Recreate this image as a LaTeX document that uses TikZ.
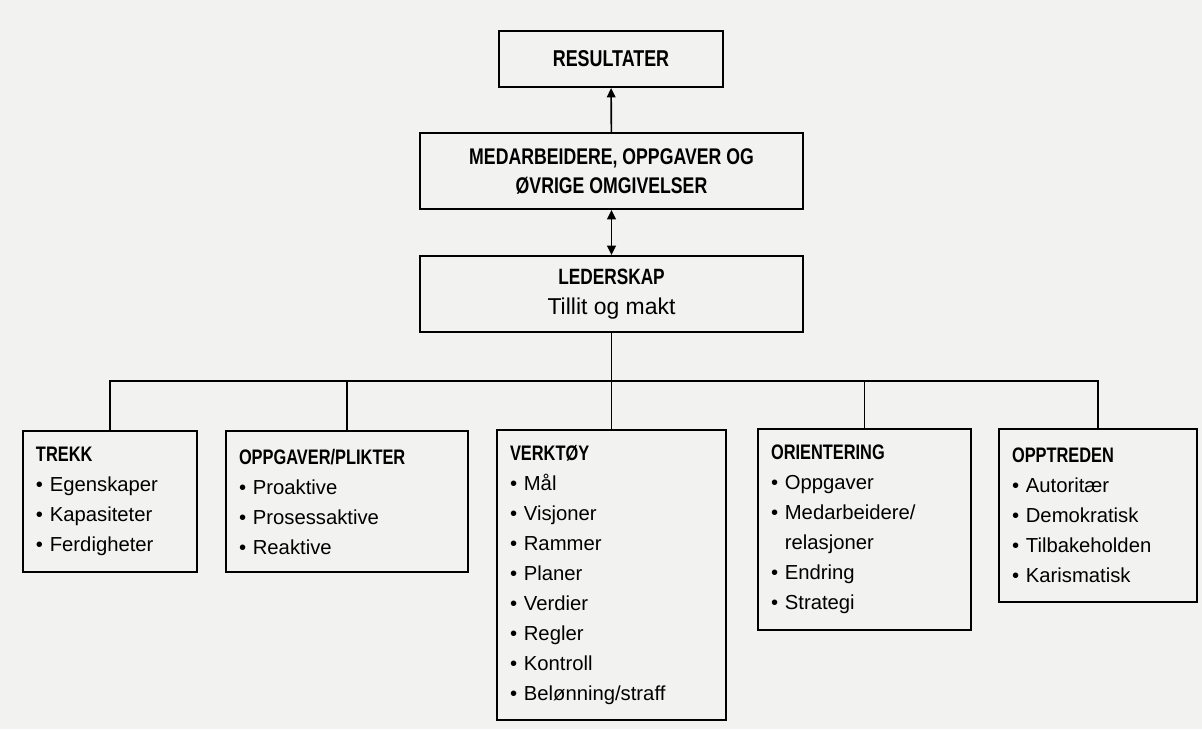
\documentclass[tikz,border=0pt]{standalone}
\usepackage{fontspec}
\setmainfont{Liberation Sans}
\newfontfamily\headfont{Liberation Sans}[FakeStretch=0.78]
\usetikzlibrary{arrows.meta}

\definecolor{papergray}{RGB}{242,242,241}
\newcommand{\hd}[2]{{\headfont\bfseries\fontsize{#1}{22.5}\selectfont #2}}
\newcommand{\itm}[1]{\textbullet\ #1}

\tikzset{every picture/.style={line width=0.75pt}}
\tikzset{
  topbox/.style 2 args={draw, line width=1.5pt, align=center, inner sep=0pt,
    minimum width=#1*0.75pt, minimum height=#2*0.75pt},
  leafbox/.style 2 args={draw, line width=1.5pt, align=left, inner xsep=9.75pt, inner ysep=0pt,
    minimum width=#1*0.75pt, minimum height=#2*0.75pt, text width=(#1-26)*0.75pt,
    font=\fontsize{15.2}{22.5}\selectfont},
  link/.style={line width=1.2pt},
  tip/.style={-{Triangle[length=7pt,width=6.5pt]}},
  bothtips/.style={{Triangle[length=7pt,width=6.5pt]}-{Triangle[length=7pt,width=6.5pt]}},
}

\begin{document}
\begin{tikzpicture}[x=0.75pt,y=0.75pt,yscale=-1,xscale=1]
\useasboundingbox (0,0) rectangle (1202,729);
\fill[papergray] (0,0) rectangle (1202,729);

% Text Node
\node[topbox={224}{56}] (resultater) at (611,59) {\hd{17.2}{RESULTATER}};
% Text Node
\node[topbox={383}{76}, font=\fontsize{17}{21.75}\selectfont] (medarb) at (611.5,171)
  {\hd{17}{MEDARBEIDERE, OPPGAVER OG}\\\hd{17}{ØVRIGE OMGIVELSER}};
% Text Node
\node[topbox={383}{76}, font=\fontsize{17.2}{22.5}\selectfont] (lederskap) at (611.5,294)
  {\hd{16.6}{LEDERSKAP}\\Tillit og makt};

% Text Node
\node[leafbox={174}{141}] (trekk) at (110,501.5)
  {\hd{15.75}{TREKK}\\\itm{Egenskaper}\\\itm{Kapasiteter}\\\itm{Ferdigheter}};
% Text Node
\node[leafbox={242}{141}] (oppgaver) at (347,501.5)
  {\hd{15.75}{OPPGAVER/PLIKTER}\\\itm{Proaktive}\\\itm{Prosessaktive}\\\itm{Reaktive}};
% Text Node
\node[leafbox={229}{290}] (verktoy) at (611.5,575)
  {\hd{15.75}{VERKTØY}\\\itm{Mål}\\\itm{Visjoner}\\\itm{Rammer}\\\itm{Planer}\\\itm{Verdier}\\\itm{Regler}\\\itm{Kontroll}\\\itm{Belønning/straff}};
% Text Node
\node[leafbox={213}{201}] (orientering) at (864.5,529.5)
  {\hd{15.75}{ORIENTERING}\\\itm{Oppgaver}\\\itm{Medarbeidere/}\\\phantom{\textbullet\ }relasjoner\\\itm{Endring}\\\itm{Strategi}};
% Text Node
\node[leafbox={198}{173}] (opptreden) at (1098,515.5)
  {\hd{15.75}{OPPTREDEN}\\\itm{Autoritær}\\\itm{Demokratisk}\\\itm{Tilbakeholden}\\\itm{Karismatisk}};

%Straight Lines
\draw[link,tip] (medarb) -- (resultater);
\draw[link,bothtips] (lederskap) -- (medarb);

%Straight Lines
\coordinate (bar) at (0,381);
\draw[link] (lederskap) -- (verktoy);
\draw[link] (trekk.north) -- (trekk.north |- bar) -- (opptreden.north |- bar) -- (opptreden.north);
\foreach \n in {oppgaver,orientering}
  \draw[link] (\n.north) -- (\n.north |- bar);

\end{tikzpicture}
\end{document}
